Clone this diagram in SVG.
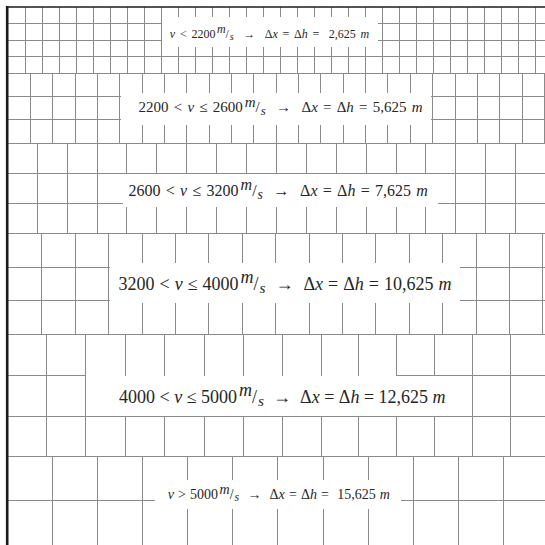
<svg xmlns="http://www.w3.org/2000/svg" width="545" height="545" viewBox="0 0 545 545">
<style>
.grid path{fill:none;stroke:#8a8a8a;stroke-width:1}
.box{fill:#fff;stroke:none}
.border{fill:none;stroke:#1a1a1a}
.lbl{font-family:"Liberation Serif","DejaVu Serif",serif;fill:#262626;text-anchor:middle}
.i{font-style:italic}
</style>
<rect width="545" height="545" fill="#fff"/>
<g id="grid" class="grid">
<path id="band1" d="M25.5 7V73M42.5 7V73M59.5 7V73M76.5 7V73M93.5 7V73M110.5 7V73M127.5 7V73M144.5 7V73M161.5 7V73M178.5 7V73M195.5 7V73M212.5 7V73M229.5 7V73M246.5 7V73M263.5 7V73M280.5 7V73M297.5 7V73M314.5 7V73M331.5 7V73M348.5 7V73M365.5 7V73M382.5 7V73M399.5 7V73M416.5 7V73M433.5 7V73M450.5 7V73M467.5 7V73M484.5 7V73M501.5 7V73M518.5 7V73M535.5 7V73M8 23.5H545M8 40.5H545M8 56.5H545M8 73.5H545"/>
<path id="band2" d="M30.5 73V143M52.5 73V143M75.5 73V143M97.5 73V143M119.5 73V143M142.5 73V143M164.5 73V143M186.5 73V143M209.5 73V143M231.5 73V143M253.5 73V143M276.5 73V143M298.5 73V143M320.5 73V143M343.5 73V143M365.5 73V143M387.5 73V143M410.5 73V143M432.5 73V143M455.5 73V143M477.5 73V143M499.5 73V143M522.5 73V143M544.5 73V143M8 96.5H545M8 119.5H545M8 143.5H545"/>
<path id="band3" d="M37.5 143V233M67.5 143V233M97.5 143V233M126.5 143V233M156.5 143V233M186.5 143V233M216.5 143V233M246.5 143V233M276.5 143V233M306.5 143V233M336.5 143V233M366.5 143V233M396.5 143V233M425.5 143V233M455.5 143V233M485.5 143V233M515.5 143V233M8 173.5H545M8 203.5H545M8 233.5H545"/>
<path id="band4" d="M41.5 233V334M75.5 233V334M108.5 233V334M142.5 233V334M175.5 233V334M208.5 233V334M242.5 233V334M275.5 233V334M309.5 233V334M342.5 233V334M375.5 233V334M409.5 233V334M442.5 233V334M476.5 233V334M509.5 233V334M542.5 233V334M8 267.5H545M8 300.5H545M8 334.5H545"/>
<path id="band5" d="M46.5 334V456M85.5 334V456M125.5 334V456M164.5 334V456M204.5 334V456M243.5 334V456M282.5 334V456M321.5 334V456M358.5 334V456M396.5 334V456M434.5 334V456M472.5 334V456M510.5 334V456M8 375.5H86M396 375.5H545M8 416.5H545M8 456.5H545"/>
<path id="band6" d="M52.5 456V545M97.5 456V545M142.5 456V545M187.5 456V545M232.5 456V545M277.5 456V545M323.5 456V545M368.5 456V545M413.5 456V545M458.5 456V545M503.5 456V545M8 500.5H545"/>
</g>
<path class="border" d="M7.2 6V545" stroke-width="2.6"/>
<path class="border" d="M6 7H545" stroke-width="1.6"/>
<g id="label1">
<rect class="box" x="162" y="17" width="216" height="30"/>
<text class="lbl" x="269.5" y="37.5" font-size="12" word-spacing="1.75" xml:space="preserve"><tspan class="i">v</tspan> &lt; 2200<tspan class="i" dx="1.5" dy="-4.4">m</tspan><tspan dy="4.4">/</tspan><tspan class="i" dx="0.8" dy="2.2" font-size="10.2">s</tspan><tspan dy="-2.2">  →  Δ</tspan><tspan class="i">x</tspan> = Δ<tspan class="i">h</tspan> =  2,625 <tspan class="i">m</tspan></text>
</g>
<g id="label2">
<rect class="box" x="121" y="93" width="310" height="32"/>
<text class="lbl" x="280.5" y="112" font-size="15" word-spacing="1.45" xml:space="preserve">2200 &lt; <tspan class="i">v</tspan> ≤ 2600<tspan class="i" dx="2" dy="-5.5">m</tspan><tspan dy="5.5">/</tspan><tspan class="i" dx="1" dy="2.7" font-size="12.8">s</tspan><tspan dy="-2.7">  →  Δ</tspan><tspan class="i">x</tspan> = Δ<tspan class="i">h</tspan> = 5,625 <tspan class="i">m</tspan></text>
</g>
<g id="label3">
<rect class="box" x="123" y="174" width="315" height="33"/>
<text class="lbl" x="278.2" y="195.6" font-size="16" word-spacing="1.3" xml:space="preserve">2600 &lt; <tspan class="i">v</tspan> ≤ 3200<tspan class="i" dx="2" dy="-6">m</tspan><tspan dy="6">/</tspan><tspan class="i" dx="1" dy="2.9" font-size="13.6">s</tspan><tspan dy="-2.9">  →  Δ</tspan><tspan class="i">x</tspan> = Δ<tspan class="i">h</tspan> = 7,625 <tspan class="i">m</tspan></text>
</g>
<g id="label4">
<rect class="box" x="110" y="263" width="350" height="40"/>
<text class="lbl" x="285" y="289.7" font-size="18" word-spacing="0.5" xml:space="preserve">3200 &lt; <tspan class="i">v</tspan> ≤ 4000<tspan class="i" dx="2" dy="-6.7">m</tspan><tspan dy="6.7">/</tspan><tspan class="i" dx="1" dy="3.2" font-size="15.3">s</tspan><tspan dy="-3.2">  →  Δ</tspan><tspan class="i">x</tspan> = Δ<tspan class="i">h</tspan> = 10,625 <tspan class="i">m</tspan></text>
</g>
<g id="label5">
<rect class="box" x="87" y="376" width="385" height="40"/>
<text class="lbl" x="282.3" y="402.8" font-size="18" word-spacing="0" xml:space="preserve">4000 &lt; <tspan class="i">v</tspan> ≤ 5000<tspan class="i" dx="2" dy="-6.7">m</tspan><tspan dy="6.7">/</tspan><tspan class="i" dx="1" dy="3.2" font-size="15.3">s</tspan><tspan dy="-3.2">  →  Δ</tspan><tspan class="i">x</tspan> = Δ<tspan class="i">h</tspan> = 12,625 <tspan class="i">m</tspan></text>
</g>
<g id="label6">
<rect class="box" x="155" y="480" width="246" height="29"/>
<text class="lbl" x="278.8" y="498.7" font-size="14" word-spacing="0.6" xml:space="preserve"><tspan class="i">v</tspan> &gt; 5000<tspan class="i" dx="1.5" dy="-5.2">m</tspan><tspan dy="5.2">/</tspan><tspan class="i" dx="1" dy="2.5" font-size="11.9">s</tspan><tspan dy="-2.5">  →  Δ</tspan><tspan class="i">x</tspan> = Δ<tspan class="i">h</tspan> =  15,625 <tspan class="i">m</tspan></text>
</g>
</svg>
